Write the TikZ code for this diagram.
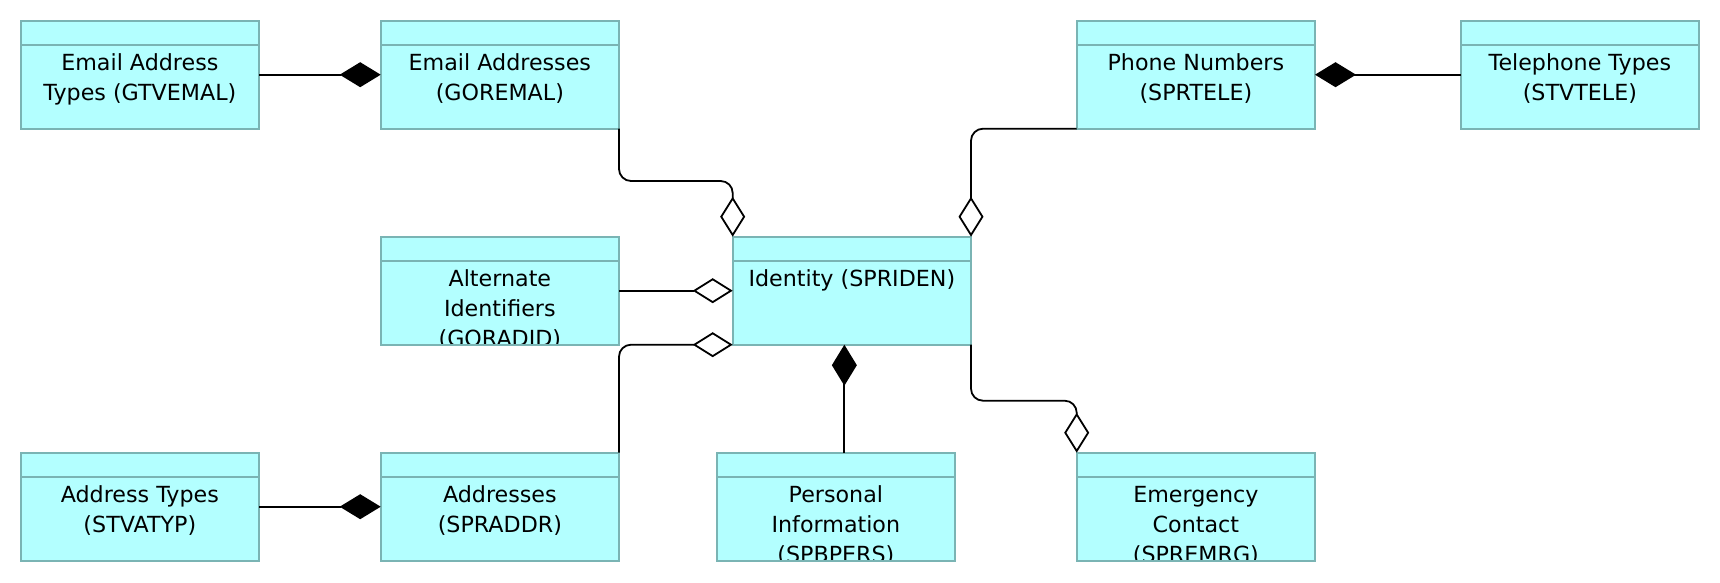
\documentclass[tikz,border=0pt]{standalone}
\usepackage{fontspec}
\setmainfont{DejaVu Sans}
\usetikzlibrary{arrows.meta}
\definecolor{boxfill}{RGB}{179,255,255}
\definecolor{boxline}{RGB}{122,180,180}
\begin{document}
\begin{tikzpicture}[x=1pt,y=-1pt,
  entity/.style={draw=boxline, fill=boxfill, line width=2pt,
    minimum width=238.3pt, minimum height=108pt, inner sep=0pt, outer sep=0pt,
    anchor=north west,
    path picture={
      \draw[boxline, line width=2pt]
        ([yshift=-24pt]path picture bounding box.north west) --
        ([yshift=-24pt]path picture bounding box.north east);
      \node[anchor=base, inner sep=0pt,
            font=\fontsize{22.2}{30}\selectfont]
        at ([yshift=-49.5pt]path picture bounding box.north)
        {\begin{tabular}[t]{@{}c@{}}#1\end{tabular}};
    }},
  link/.style={line width=1.8pt, rounded corners=12pt},
  agg/.style={link, -{Diamond[open, length=40pt, width=25pt]}},
  comp/.style={link, -{Diamond[length=41pt, width=25pt]}},
]
\useasboundingbox (0,0) rectangle (1720,582);

\node[entity={Email Address\\Types (GTVEMAL)}] (eat) at (20.7,20.7) {};
\node[entity={Email Addresses\\(GOREMAL)}] (ea) at (380.7,20.7) {};
\node[entity={Phone Numbers\\(SPRTELE)}] (ph) at (1076.7,20.7) {};
\node[entity={Telephone Types\\(STVTELE)}] (tt) at (1460.7,20.7) {};
\node[entity={Alternate\\Identifiers\\(GORADID)}] (ai) at (380.7,236.7) {};
\node[entity={Identity (SPRIDEN)}] (id) at (732.7,236.7) {};
\node[entity={Address Types\\(STVATYP)}] (at) at (20.7,452.7) {};
\node[entity={Addresses\\(SPRADDR)}] (ad) at (380.7,452.7) {};
\node[entity={Personal\\Information\\(SPBPERS)}] (pi) at (716.7,452.7) {};
\node[entity={Emergency\\Contact\\(SPREMRG)}] (em) at (1076.7,452.7) {};

\draw[comp] (eat.east) -- (ea.west);
\draw[comp] (tt.west) -- (ph.east);
\draw[comp] (at.east) -- (ad.west);
\draw[agg] (ai.east) -- (id.west);
\draw[agg] (ea.south east) -- ++(0,52.3) -| (id.north west);
\draw[agg] (ph.south west) -| (id.north east);
\draw[agg] (ad.north east) |- (id.south west);
\draw[agg] (id.south east) -- ++(0,56) -| (em.north west);
\draw[comp] ([xshift=8.5pt]pi.north) -- ([xshift=8.5pt]pi.north |- id.south);
\end{tikzpicture}
\end{document}
